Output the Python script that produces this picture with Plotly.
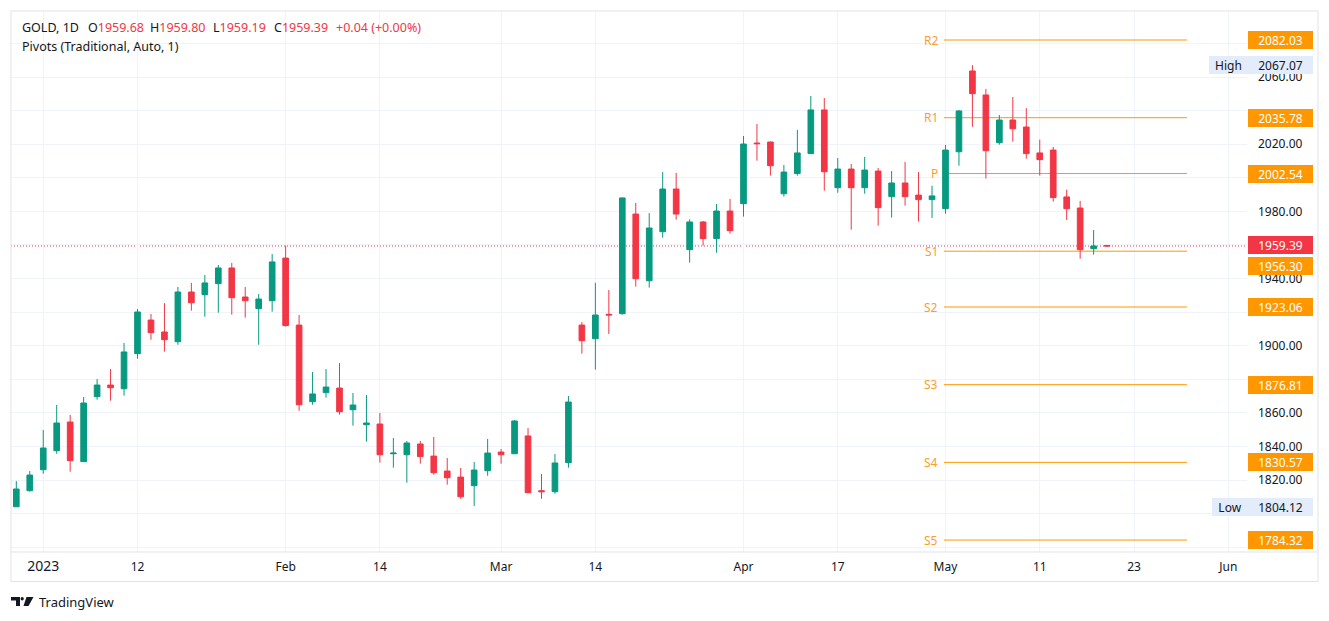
import plotly.graph_objects as go

# ---------------- data ----------------
opens = [1804.12, 1813.7, 1826.2, 1837.5, 1854.6, 1831.0, 1869.7, 1876.6, 1874.4, 1895.3,
         1915.3, 1908.2, 1902.4, 1932.0, 1930.4, 1937.0, 1946.3, 1929.0, 1922.1, 1926.8,
         1952.2, 1912.3, 1866.7, 1872.1, 1874.8, 1861.9, 1853.0, 1853.4, 1835.7, 1835.1,
         1841.5, 1834.3, 1825.4, 1821.8, 1816.7, 1825.6, 1836.7, 1835.7, 1846.3, 1813.7,
         1813.1, 1830.4, 1912.3, 1904.2, 1918.7, 1919.1, 1978.4, 1938.7, 1967.9, 1993.3,
         1957.2, 1973.7, 1963.8, 1980.2, 1984.6, 2020.7, 2021.3, 1990.5, 2002.5, 2014.4,
         2040.4, 1994.1, 2005.2, 1994.1, 2004.0, 1988.8, 1996.9, 1989.7, 1987.0, 1981.6,
         2015.5, 2063.6, 2049.3, 2020.9, 2034.4, 2030.2, 2014.8, 2016.5, 1988.6, 1982.0,
         1957.8, 1959.68]
highs = [1819.4, 1825.4, 1849.8, 1864.7, 1858.8, 1869.5, 1880.2, 1886.1, 1901.6, 1921.9,
         1918.9, 1925.4, 1935.0, 1937.4, 1942.1, 1948.1, 1949.3, 1935.0, 1930.8, 1954.6,
         1959.6, 1918.3, 1884.4, 1886.1, 1889.7, 1871.9, 1870.7, 1860.0, 1845.1, 1843.3,
         1843.3, 1845.7, 1833.2, 1827.2, 1830.8, 1844.5, 1838.5, 1855.8, 1851.0, 1823.6,
         1835.5, 1870.1, 1914.1, 1937.5, 1933.2, 1988.3, 1985.0, 1979.0, 2003.4, 2002.9,
         1975.3, 1974.3, 1984.4, 1987.4, 2024.9, 2032.0, 2021.5, 2007.6, 2028.5, 2048.7,
         2047.5, 2011.8, 2008.2, 2012.4, 2005.8, 2004.0, 2009.4, 2003.4, 1995.3, 2019.5,
         2040.4, 2067.07, 2052.9, 2037.4, 2048.1, 2041.5, 2022.7, 2018.3, 1992.9, 1986.2,
         1968.9, 1959.80]
lows = [1804.12, 1813.1, 1823.8, 1835.7, 1825.0, 1831.0, 1867.9, 1867.3, 1870.3, 1892.3,
        1903.6, 1896.5, 1900.6, 1920.9, 1917.3, 1919.7, 1918.5, 1916.7, 1900.6, 1920.3,
        1911.4, 1861.3, 1864.9, 1869.1, 1859.0, 1852.4, 1842.9, 1830.4, 1827.4, 1818.5,
        1829.8, 1823.2, 1817.3, 1808.9, 1804.6, 1822.6, 1829.8, 1835.7, 1812.5, 1808.9,
        1811.9, 1827.4, 1895.3, 1885.8, 1907.0, 1918.5, 1935.2, 1934.6, 1964.3, 1975.1,
        1949.5, 1959.6, 1955.4, 1966.7, 1976.9, 2010.2, 2001.3, 1988.8, 2001.3, 2014.4,
        1992.3, 1991.1, 1969.1, 1990.5, 1971.5, 1976.3, 1983.4, 1973.9, 1976.1, 1978.6,
        2007.2, 2030.4, 1999.5, 2019.7, 2021.5, 2011.4, 2001.3, 1985.8, 1974.9, 1951.8,
        1954.2, 1959.19]
closes = [1814.7, 1823.0, 1839.1, 1854.0, 1831.6, 1865.9, 1876.6, 1875.0, 1896.3, 1920.1,
          1907.8, 1903.6, 1932.0, 1925.6, 1937.4, 1946.3, 1928.6, 1926.8, 1927.8, 1949.9,
          1912.0, 1864.9, 1871.3, 1875.4, 1860.7, 1864.7, 1854.0, 1835.1, 1836.1, 1842.1,
          1834.0, 1824.4, 1821.4, 1810.1, 1826.0, 1836.1, 1835.1, 1855.2, 1812.5, 1813.1,
          1830.2, 1866.5, 1903.0, 1918.3, 1918.3, 1988.0, 1939.9, 1970.1, 1993.3, 1978.4,
          1973.7, 1963.8, 1980.2, 1968.5, 2020.1, 2020.3, 2007.2, 2003.4, 2014.8, 2040.4,
          2003.6, 2005.2, 1994.1, 2004.6, 1982.2, 1996.9, 1988.8, 1987.0, 1989.2, 2016.5,
          2039.8, 2050.1, 2016.1, 2034.4, 2029.2, 2014.4, 2010.8, 1988.2, 1981.6, 1957.2,
          1959.4, 1959.39]
bar_index = list(range(len(opens)))

tick_bars = [2, 9, 20, 27, 36, 43, 54, 61, 69, 76, 83, 90]
tick_labels = ["2023", "12", "Feb", "14", "Mar", "14", "Apr", "17", "May", "11", "23", "Jun"]

price_ticks = list(range(1780, 2101, 20))
price_labels_shown = [2060, 2020, 1980, 1940, 1900, 1860, 1840, 1820]

pivot_names = ["R2", "R1", "P", "S1", "S2", "S3", "S4", "S5"]
pivot_values = [2082.03, 2035.78, 2002.54, 1956.30, 1923.06, 1876.81, 1830.57, 1784.32]

last_price = 1959.39
high_value = 2067.07
low_value = 1804.12

header_labels = ["O", "H", "L", "C"]
header_values = ["1959.68", "1959.80", "1959.19", "1959.39"]
header_change = "+0.04 (+0.00%)"

# ---------------- style ----------------
GREEN = "#089981"
RED = "#f23645"
ORANGE = "#ff9800"
TEXT = "#131722"
GRID = "#f0f3fa"
FRAME = "#e0e3eb"
FONT = "Noto Sans"

# page offset of the figure inside the browser page (body margin)
OFF = 8
W, H = 1329 - OFF, 621 - OFF
PLOT_L, PLOT_R, PLOT_T, PLOT_B = 11, 1247, 11, 552   # plot area in window pixels
L, T = PLOT_L - OFF, PLOT_T - OFF
R, B = W - (PLOT_R - OFF), H - (PLOT_B - OFF)
PW, PH = PLOT_R - PLOT_L, PLOT_B - PLOT_T
LABEL_H = 18


def px2x(px):
    return (px - PLOT_L) / PW


def py2y(py):
    return (PLOT_B - py) / PH


fig = go.Figure()
fig.add_trace(go.Candlestick(
    x=bar_index, open=opens, high=highs, low=lows, close=closes,
    increasing=dict(line=dict(color=GREEN, width=1), fillcolor=GREEN),
    decreasing=dict(line=dict(color=RED, width=1), fillcolor=RED),
    whiskerwidth=0, hoverinfo="skip", showlegend=False,
))

shapes = []
annotations = []

# pivot lines
piv_x0, piv_x1 = 68.88, 86.93
for name, val in zip(pivot_names, pivot_values):
    shapes.append(dict(type="line", xref="x", yref="y", x0=piv_x0, x1=piv_x1, y0=val, y1=val,
                       line=dict(color=ORANGE, width=1), layer="between"))
    annotations.append(dict(x=piv_x0, y=val, xref="x", yref="y", text=name, showarrow=False,
                            xanchor="right", yanchor="middle", xshift=-4,
                            font=dict(family=FONT, size=12, color="#f7a031")))
    # price-scale label; pushed down when it would collide with the last-price label
    shift = 0
    if abs(val - last_price) < 10:
        shift = -14.5
    annotations.append(dict(x=px2x(1248), y=val, xref="paper", yref="y", text="%.2f" % val,
                            showarrow=False, xanchor="left", yanchor="middle", yshift=shift,
                            bgcolor=ORANGE, width=63, height=LABEL_H - 2, borderpad=1, borderwidth=0,
                            font=dict(family=FONT, size=12, color="white")))

# last price dotted line and label
shapes.append(dict(type="line", xref="paper", yref="y", x0=0, x1=1, y0=last_price, y1=last_price,
                   line=dict(color=RED, width=1, dash="1px,2px"), layer="between"))
annotations.append(dict(x=px2x(1248), y=last_price, xref="paper", yref="y", text="%.2f" % last_price,
                        showarrow=False, xanchor="left", yanchor="middle", yshift=1,
                        bgcolor=RED, width=63, height=LABEL_H - 2, borderpad=1, borderwidth=0,
                        font=dict(family=FONT, size=12, color="white")))

# high / low labels
for word, val in (("High", high_value), ("Low", low_value)):
    x_word = 1209 if word == "High" else 1212
    annotations.append(dict(x=px2x(x_word), y=val, xref="paper", yref="y", text=word,
                            showarrow=False, xanchor="left", yanchor="middle",
                            bgcolor="#e3ecfb", width=1248 - x_word - 2, height=LABEL_H - 2, borderpad=1,
                            borderwidth=0, align="center",
                            font=dict(family=FONT, size=12, color=TEXT)))
    annotations.append(dict(x=px2x(1248), y=val, xref="paper", yref="y", text="%.2f" % val,
                            showarrow=False, xanchor="left", yanchor="middle",
                            bgcolor="#e3ecfb", width=63, height=LABEL_H - 2, borderpad=1, borderwidth=0,
                            font=dict(family=FONT, size=12, color=TEXT)))

# header legend
hy = py2y(27)
annotations.append(dict(x=px2x(20), y=hy, xref="paper", yref="paper", text="GOLD, 1D",
                        showarrow=False, xanchor="left", yanchor="middle",
                        font=dict(family=FONT, size=12.5, color=TEXT)))
for px, lab, val in zip([86, 148, 211, 272], header_labels, header_values):
    annotations.append(dict(x=px2x(px), y=hy, xref="paper", yref="paper",
                            text=lab + "<span style='color:%s'>%s</span>" % (RED, val),
                            showarrow=False, xanchor="left", yanchor="middle",
                            font=dict(family=FONT, size=12.5, color=TEXT)))
annotations.append(dict(x=px2x(334), y=hy, xref="paper", yref="paper", text=header_change,
                        showarrow=False, xanchor="left", yanchor="middle",
                        font=dict(family=FONT, size=12.5, color=RED)))
annotations.append(dict(x=px2x(20), y=py2y(46), xref="paper", yref="paper",
                        text="Pivots (Traditional, Auto, 1)",
                        showarrow=False, xanchor="left", yanchor="middle",
                        font=dict(family=FONT, size=12.5, color=TEXT)))

# TradingView footer
annotations.append(dict(x=px2x(37), y=py2y(602), xref="paper", yref="paper", text="TradingView",
                        showarrow=False, xanchor="left", yanchor="middle",
                        font=dict(family=FONT, size=13, color=TEXT)))


def rect(x0, y0, x1, y1):
    return dict(type="rect", xref="paper", yref="paper", x0=px2x(x0), x1=px2x(x1),
                y0=py2y(y0), y1=py2y(y1), fillcolor=TEXT, line=dict(width=0), layer="above")


shapes.append(rect(11, 597, 20, 600.5))
shapes.append(rect(16, 597, 20, 606))
shapes.append(dict(type="circle", xref="paper", yref="paper", x0=px2x(20.6), x1=px2x(23.8),
                   y0=py2y(597), y1=py2y(600.4), fillcolor=TEXT, line=dict(width=0)))
shapes.append(dict(type="path", xref="paper", yref="paper",
                   path="M %f %f L %f %f L %f %f L %f %f Z" % (
                       px2x(26.5), py2y(597), px2x(33.5), py2y(597),
                       px2x(28.5), py2y(606), px2x(23.5), py2y(606)),
                   fillcolor=TEXT, line=dict(width=0)))

# frame
shapes.append(dict(type="rect", xref="paper", yref="paper", x0=0, x1=px2x(1318),
                   y0=py2y(581.5), y1=1, line=dict(color=FRAME, width=1), layer="above"))
shapes.append(dict(type="line", xref="paper", yref="paper", x0=0, x1=px2x(1318),
                   y0=0, y1=0, line=dict(color=FRAME, width=1), layer="above"))

ticktext = [("<span style='font-size:14px'>%s</span>" % t) if t == "2023" else t for t in tick_labels]
price_text = [("%.2f" % v) if v in price_labels_shown else "" for v in price_ticks]

fig.update_layout(
    width=W, height=H,
    margin=dict(l=L, r=R, t=T, b=B),
    paper_bgcolor="white", plot_bgcolor="white",
    boxgap=0.4,
    shapes=shapes, annotations=annotations,
    font=dict(family=FONT, size=12, color=TEXT),
    xaxis=dict(range=[-0.394, 91.39], rangeslider=dict(visible=False),
               tickmode="array", tickvals=tick_bars, ticktext=ticktext,
               showgrid=True, gridcolor=GRID, gridwidth=1, zeroline=False, showline=False,
               ticks="", ticklabelstandoff=6, tickfont=dict(family=FONT, size=12, color=TEXT)),
    yaxis=dict(range=[1777.2, 2099.3], side="right", tickmode="array",
               tickvals=price_ticks, ticktext=price_text,
               showgrid=True, gridcolor=GRID, gridwidth=1, zeroline=False, showline=False,
               ticks="", ticklabelstandoff=10, tickfont=dict(family=FONT, size=12, color=TEXT)),
    hovermode=False,
)

fig.write_html("out.html")
